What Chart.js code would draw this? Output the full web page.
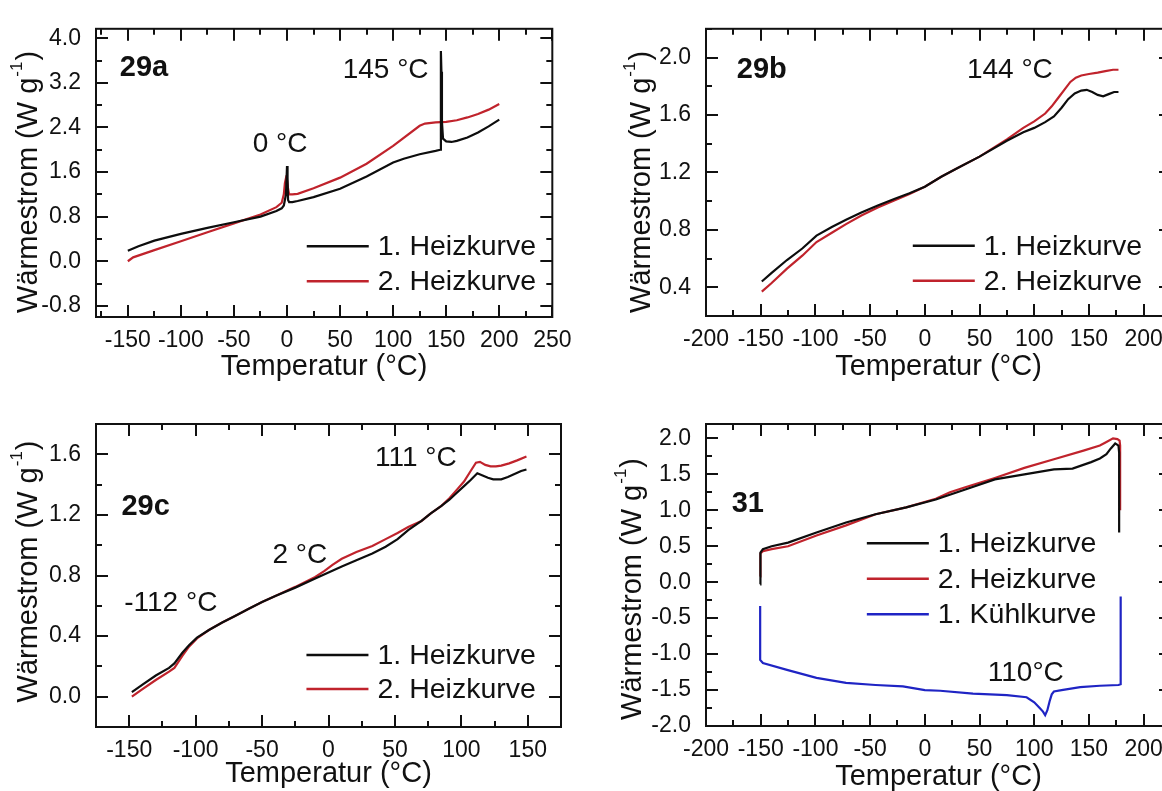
<!DOCTYPE html>
<html>
<head>
<meta charset="utf-8">
<script src="https://cdn.jsdelivr.net/npm/chart.js@4.4.1/dist/chart.umd.min.js"></script>
<style>
  html, body { margin: 0; padding: 0; background: #fff; width: 1162px; height: 791px; overflow: hidden; }
  canvas { position: absolute; }
</style>
</head>
<body>
<canvas id="p29a" width="581" height="395" style="left:0px;top:0px;width:581px;height:395px"></canvas>
<canvas id="p29b" width="600" height="395" style="left:581px;top:0px;width:600px;height:395px"></canvas>
<canvas id="p29c" width="581" height="396" style="left:0px;top:395px;width:581px;height:396px"></canvas>
<canvas id="p31" width="600" height="396" style="left:581px;top:395px;width:600px;height:396px"></canvas>
<script>
// ---------- 29a ----------
const tempA1 = [-150,-140,-125,-100,-75,-50,-25,-10,-5,-3,-1,0,0.5,1,2,5,10,25,50,75,100,110,125,140,144.5,145,145.5,146,147,150,155,160,170,180,190,200];
const flowA1 = [0.19,0.27,0.37,0.49,0.60,0.70,0.80,0.90,0.95,1.00,1.20,1.71,1.50,1.10,1.06,1.06,1.08,1.15,1.30,1.52,1.77,1.84,1.92,1.98,2.00,3.77,3.40,2.50,2.20,2.15,2.14,2.16,2.22,2.31,2.42,2.54];
const tempA2 = [-150,-145,-125,-100,-75,-50,-25,-10,-5,-3,-2,-1,0,1,2,5,10,25,50,75,100,125,130,140,150,160,170,180,190,200];
const flowA2 = [0.00,0.07,0.20,0.36,0.52,0.68,0.84,0.97,1.05,1.20,1.40,1.49,1.45,1.30,1.20,1.20,1.21,1.31,1.50,1.75,2.07,2.43,2.47,2.49,2.50,2.53,2.58,2.64,2.72,2.82];

// ---------- 29b ----------
const tempB1 = [-149,-140,-126,-112,-99,-85,-72,-58,-43,-28,-14,0,15,30,50,75,90,100,110,118,125,131,137,143,148,153,158,163,168,173,177];
const flowB1 = [0.44,0.50,0.59,0.67,0.76,0.82,0.87,0.92,0.97,1.015,1.055,1.10,1.17,1.23,1.31,1.42,1.48,1.51,1.55,1.59,1.65,1.71,1.75,1.77,1.775,1.76,1.74,1.73,1.745,1.76,1.76];
const tempB2 = [-149,-140,-126,-112,-99,-85,-72,-58,-43,-28,-14,0,15,30,50,75,90,100,110,116,122,128,133,138,143,150,158,165,172,177];
const flowB2 = [0.37,0.43,0.53,0.62,0.715,0.78,0.84,0.90,0.955,1.005,1.05,1.10,1.17,1.23,1.31,1.43,1.51,1.555,1.61,1.66,1.72,1.78,1.83,1.86,1.875,1.885,1.895,1.905,1.915,1.915];

// ---------- 29c ----------
const tempC1 = [-148,-140,-130,-120,-116,-110,-105,-99,-90,-80,-70,-60,-50,-40,-25,-10,0,10,21,33,43,52,60,70,77,85,91,97,102,107,112,116,120,124,130,135,140,145,149];
const flowC1 = [0.03,0.08,0.14,0.19,0.22,0.29,0.34,0.39,0.44,0.49,0.535,0.58,0.625,0.665,0.72,0.78,0.82,0.86,0.90,0.945,0.99,1.04,1.10,1.16,1.21,1.26,1.30,1.35,1.39,1.43,1.475,1.46,1.445,1.435,1.435,1.45,1.47,1.49,1.50];
const tempC2 = [-148,-140,-130,-120,-116,-110,-105,-99,-90,-80,-70,-60,-50,-40,-25,-10,-3,3,10,21,33,43,52,60,70,77,85,91,97,102,107,111,114,118,122,126,130,136,142,149];
const flowC2 = [0.00,0.05,0.11,0.165,0.19,0.27,0.33,0.385,0.44,0.49,0.535,0.58,0.625,0.665,0.725,0.79,0.83,0.87,0.91,0.955,0.995,1.04,1.08,1.12,1.16,1.21,1.26,1.31,1.37,1.42,1.49,1.545,1.55,1.53,1.52,1.52,1.525,1.54,1.56,1.585];

// ---------- 31 ----------
const tempD1 = [-150.5,-150.5,-150,-148,-140,-125,-99,-72,-45,-17,10,37,64,91,118,135,152,160,166,170,174,177,177.6,177.6];
const flowD1 = [-0.03,0.30,0.41,0.46,0.50,0.55,0.69,0.83,0.945,1.04,1.15,1.29,1.43,1.50,1.57,1.58,1.67,1.72,1.78,1.86,1.93,1.90,1.80,0.69];
const tempD2 = [-150.5,-150.5,-150,-148,-140,-125,-99,-72,-45,-17,10,23,37,64,91,118,145,160,166,172,176,178,178.5,178.5];
const flowD2 = [0.08,0.30,0.40,0.43,0.46,0.50,0.65,0.79,0.945,1.04,1.16,1.25,1.32,1.45,1.59,1.71,1.83,1.90,1.95,2.00,1.99,1.97,1.90,1.00];
const tempD3 = [179,179,177,160,142,125,118,116,114,112,110,108,105,100,93,75,44,14,0,-20,-45,-72,-99,-126,-148,-150.5,-150.5];
const flowD3 = [-0.20,-1.42,-1.43,-1.44,-1.46,-1.50,-1.52,-1.56,-1.66,-1.78,-1.85,-1.80,-1.75,-1.67,-1.60,-1.57,-1.55,-1.51,-1.50,-1.45,-1.43,-1.40,-1.33,-1.22,-1.125,-1.08,-0.33];

// ---------- tick labels ----------
const xTicksA = [-150,-100,-50,0,50,100,150,200,250];
const yTicksA = [-0.8,0,0.8,1.6,2.4,3.2,4.0];
const xTicksB = [-200,-150,-100,-50,0,50,100,150,200];
const yTicksB = [0.4,0.8,1.2,1.6,2.0];
const xTicksC = [-150,-100,-50,0,50,100,150];
const yTicksC = [0.0,0.4,0.8,1.2,1.6];
const xTicksD = [-200,-150,-100,-50,0,50,100,150,200];
const yTicksD = [-2.0,-1.5,-1.0,-0.5,0.0,0.5,1.0,1.5,2.0];

const seriesNames = ['1. Heizkurve', '2. Heizkurve', '1. Kühlkurve'];
const xTitle = 'Temperatur (°C)';

const FONT = "'Liberation Sans', Arial, Helvetica, sans-serif";
const INK = '#111111';
const BLACK = '#0d0d0d';
const RED = '#c0232c';
const BLUE = '#1f24c4';

Chart.defaults.font.family = FONT;
Chart.defaults.color = INK;

// Box frame with inward major/minor ticks on all four sides
const frameTicks = {
  id: 'frameTicks',
  afterDatasetsDraw(chart, args, o) {
    const { ctx, chartArea: a, scales: { x, y } } = chart;
    ctx.save();
    ctx.strokeStyle = INK;
    ctx.lineWidth = 2;
    ctx.lineCap = 'butt';
    const seg = (x1, y1, x2, y2) => { ctx.beginPath(); ctx.moveTo(x1, y1); ctx.lineTo(x2, y2); ctx.stroke(); };
    const each = (min, max, step, fn) => {
      const k0 = Math.ceil(min / step - 1e-9), k1 = Math.floor(max / step + 1e-9);
      for (let k = k0; k <= k1; k++) fn(+(k * step).toFixed(6));
    };
    const isMajor = (v, step) => Math.abs(v / step - Math.round(v / step)) < 1e-6;
    each(x.min, x.max, o.xMinor, v => {
      const len = isMajor(v, o.xMajor) ? 12 : 6;
      const p = Math.round(x.getPixelForValue(v));
      seg(p, a.bottom, p, a.bottom - len);
      seg(p, a.top, p, a.top + len);
    });
    each(y.min, y.max, o.yMinor, v => {
      const len = isMajor(v, o.yMajor) ? 12 : 6;
      const p = Math.round(y.getPixelForValue(v));
      seg(a.left, p, a.left + len, p);
      seg(a.right, p, a.right - len, p);
    });
    ctx.strokeRect(a.left, a.top, a.right - a.left, a.bottom - a.top);
    ctx.restore();
  }
};

// Panel label, peak annotations, in-plot legend and the y-axis title with superscript
const panelText = {
  id: 'panelText',
  afterDraw(chart, args, o) {
    const { ctx, chartArea: a, scales: { x, y } } = chart;
    ctx.save();
    ctx.fillStyle = INK;
    ctx.textAlign = 'center';
    ctx.textBaseline = 'middle';
    (o.notes || []).forEach(n => {
      ctx.font = (n.bold ? 'bold ' : '') + n.size + 'px ' + FONT;
      ctx.fillText(n.text, x.getPixelForValue(n.x), y.getPixelForValue(n.y));
    });

    // legend
    const lg = o.legend;
    const lx = x.getPixelForValue(lg.x);
    let ly = y.getPixelForValue(lg.y);
    ctx.textAlign = 'left';
    ctx.font = '28.5px ' + FONT;
    chart.data.datasets.forEach(ds => {
      ctx.strokeStyle = ds.borderColor;
      ctx.lineWidth = 2.5;
      ctx.beginPath(); ctx.moveTo(lx, ly); ctx.lineTo(lx + 62, ly); ctx.stroke();
      ctx.fillStyle = INK;
      ctx.fillText(ds.label, lx + 71, ly + 1);
      ly += lg.gap;
    });

    // y title: Wärmestrom (W g^-1)
    const main = 'Wärmestrom (W g', sup = '-1', tail = ')';
    const big = '29px ' + FONT, small = '17px ' + FONT;
    ctx.font = big;
    const wMain = ctx.measureText(main).width, wTail = ctx.measureText(tail).width;
    ctx.font = small;
    const wSup = ctx.measureText(sup).width + 2;
    const total = wMain + wSup + wTail;
    ctx.translate(a.left + o.yTitle.dx, (a.top + a.bottom) / 2 + o.yTitle.dy);
    ctx.rotate(-Math.PI / 2);
    ctx.textBaseline = 'alphabetic';
    ctx.textAlign = 'left';
    const x0 = -total / 2, base = 10.5;
    ctx.font = big; ctx.fillText(main, x0, base);
    ctx.font = small; ctx.fillText(sup, x0 + wMain + 1, base - 15);
    ctx.font = big; ctx.fillText(tail, x0 + wMain + wSup, base);
    ctx.restore();
  }
};

function panel(id, cfg) {
  const canvas = document.getElementById(id);
  const W = canvas.width, H = canvas.height;
  return new Chart(canvas, {
    type: 'scatter',
    data: {
      datasets: cfg.series.map(s => ({
        label: s.label,
        data: s.t.map((t, i) => ({ x: t, y: s.f[i] })),
        showLine: true,
        borderColor: s.color,
        backgroundColor: s.color,
        borderWidth: 2.2,
        pointRadius: 0,
        tension: 0,
        fill: false
      }))
    },
    options: {
      responsive: false,
      animation: false,
      devicePixelRatio: 1,
      events: [],
      layout: { padding: { left: 0, right: W - cfg.area.right, top: cfg.area.top, bottom: 0 } },
      plugins: {
        legend: { display: false },
        tooltip: { enabled: false },
        frameTicks: cfg.ticks,
        panelText: { notes: cfg.notes, legend: cfg.legend, yTitle: cfg.yTitle }
      },
      scales: {
        x: {
          type: 'linear', position: 'bottom', min: cfg.xRange[0], max: cfg.xRange[1],
          grid: { display: false, drawTicks: false }, border: { display: false },
          afterBuildTicks: s => { s.ticks = cfg.xTicks.map(v => ({ value: v })); },
          afterFit: s => { s.height = H - cfg.area.bottom; },
          ticks: { font: { size: 23 }, color: INK, padding: 9.5, maxRotation: 0, autoSkip: false,
                   callback: v => String(v) },
          title: { display: true, text: xTitle, color: INK, font: { size: 29 },
                   padding: { top: 0, bottom: cfg.xTitlePad } }
        },
        y: {
          type: 'linear', position: 'left', min: cfg.yRange[0], max: cfg.yRange[1],
          grid: { display: false, drawTicks: false }, border: { display: false },
          afterBuildTicks: s => { s.ticks = cfg.yTicks.map(v => ({ value: v })); },
          afterFit: s => { s.width = cfg.area.left; },
          ticks: { font: { size: 23 }, color: INK, padding: 15, autoSkip: false,
                   callback: v => Number(v).toFixed(1) }
        }
      }
    },
    plugins: [frameTicks, panelText]
  });
}

panel('p29a', {
  area: { left: 96, right: 560, top: 15, bottom: 317 },
  xRange: [-180, 250], yRange: [-1.0, 4.17],
  xTicks: xTicksA, yTicks: yTicksA,
  ticks: { xMajor: 50, xMinor: 25, yMajor: 0.8, yMinor: 0.4 },
  xTitlePad: 10.5,
  yTitle: { dx: -70, dy: 9 },
  series: [
    { label: seriesNames[0], t: tempA1, f: flowA1, color: BLACK },
    { label: seriesNames[1], t: tempA2, f: flowA2, color: RED }
  ],
  legend: { x: 18.6, y: 0.268, gap: 35 },
  notes: [
    { text: '29a', x: -134.8, y: 3.46, bold: true, size: 29 },
    { text: '0 °C', x: -6.5, y: 2.09, size: 28 },
    { text: '145 °C', x: 92.9, y: 3.43, size: 28 }
  ]
});

panel('p29b', {
  area: { left: 125, right: 590, top: 15, bottom: 316 },
  xRange: [-200, 225], yRange: [0.2, 2.2],
  xTicks: xTicksB, yTicks: yTicksB,
  ticks: { xMajor: 50, xMinor: 25, yMajor: 0.4, yMinor: 0.2 },
  xTitlePad: 10.5,
  yTitle: { dx: -67, dy: 9.5 },
  series: [
    { label: seriesNames[0], t: tempB1, f: flowB1, color: BLACK },
    { label: seriesNames[1], t: tempB2, f: flowB2, color: RED }
  ],
  legend: { x: -11, y: 0.689, gap: 35 },
  notes: [
    { text: '29b', x: -149, y: 1.911, bold: true, size: 29 },
    { text: '144 °C', x: 77.7, y: 1.913, size: 28 }
  ]
});

panel('p29c', {
  area: { left: 96, right: 561, top: 29, bottom: 332 },
  xRange: [-175, 175], yRange: [-0.2, 1.8],
  xTicks: xTicksC, yTicks: yTicksC,
  ticks: { xMajor: 50, xMinor: 25, yMajor: 0.4, yMinor: 0.2 },
  xTitlePad: -0.5,
  yTitle: { dx: -70, dy: -4 },
  series: [
    { label: seriesNames[0], t: tempC1, f: flowC1, color: BLACK },
    { label: seriesNames[1], t: tempC2, f: flowC2, color: RED }
  ],
  legend: { x: -16.6, y: 0.276, gap: 34 },
  notes: [
    { text: '29c', x: -137.6, y: 1.252, bold: true, size: 29 },
    { text: '-112 °C', x: -118.7, y: 0.616, size: 28 },
    { text: '2 °C', x: -21.6, y: 0.934, size: 28 },
    { text: '111 °C', x: 65.7, y: 1.576, size: 28 }
  ]
});

panel('p31', {
  area: { left: 125, right: 590, top: 29, bottom: 331 },
  xRange: [-200, 225], yRange: [-2.0, 2.2],
  xTicks: xTicksD, yTicks: yTicksD,
  ticks: { xMajor: 50, xMinor: 25, yMajor: 0.5, yMinor: 0.25 },
  xTitlePad: -3.5,
  yTitle: { dx: -76, dy: 14 },
  series: [
    { label: seriesNames[0], t: tempD1, f: flowD1, color: BLACK },
    { label: seriesNames[1], t: tempD2, f: flowD2, color: RED },
    { label: seriesNames[2], t: tempD3, f: flowD3, color: BLUE }
  ],
  legend: { x: -53, y: 0.54, gap: 35.5 },
  notes: [
    { text: '31', x: -161.8, y: 1.084, bold: true, size: 29 },
    { text: '110°C', x: 92.3, y: -1.26, size: 28 }
  ]
});
</script>
</body>
</html>
